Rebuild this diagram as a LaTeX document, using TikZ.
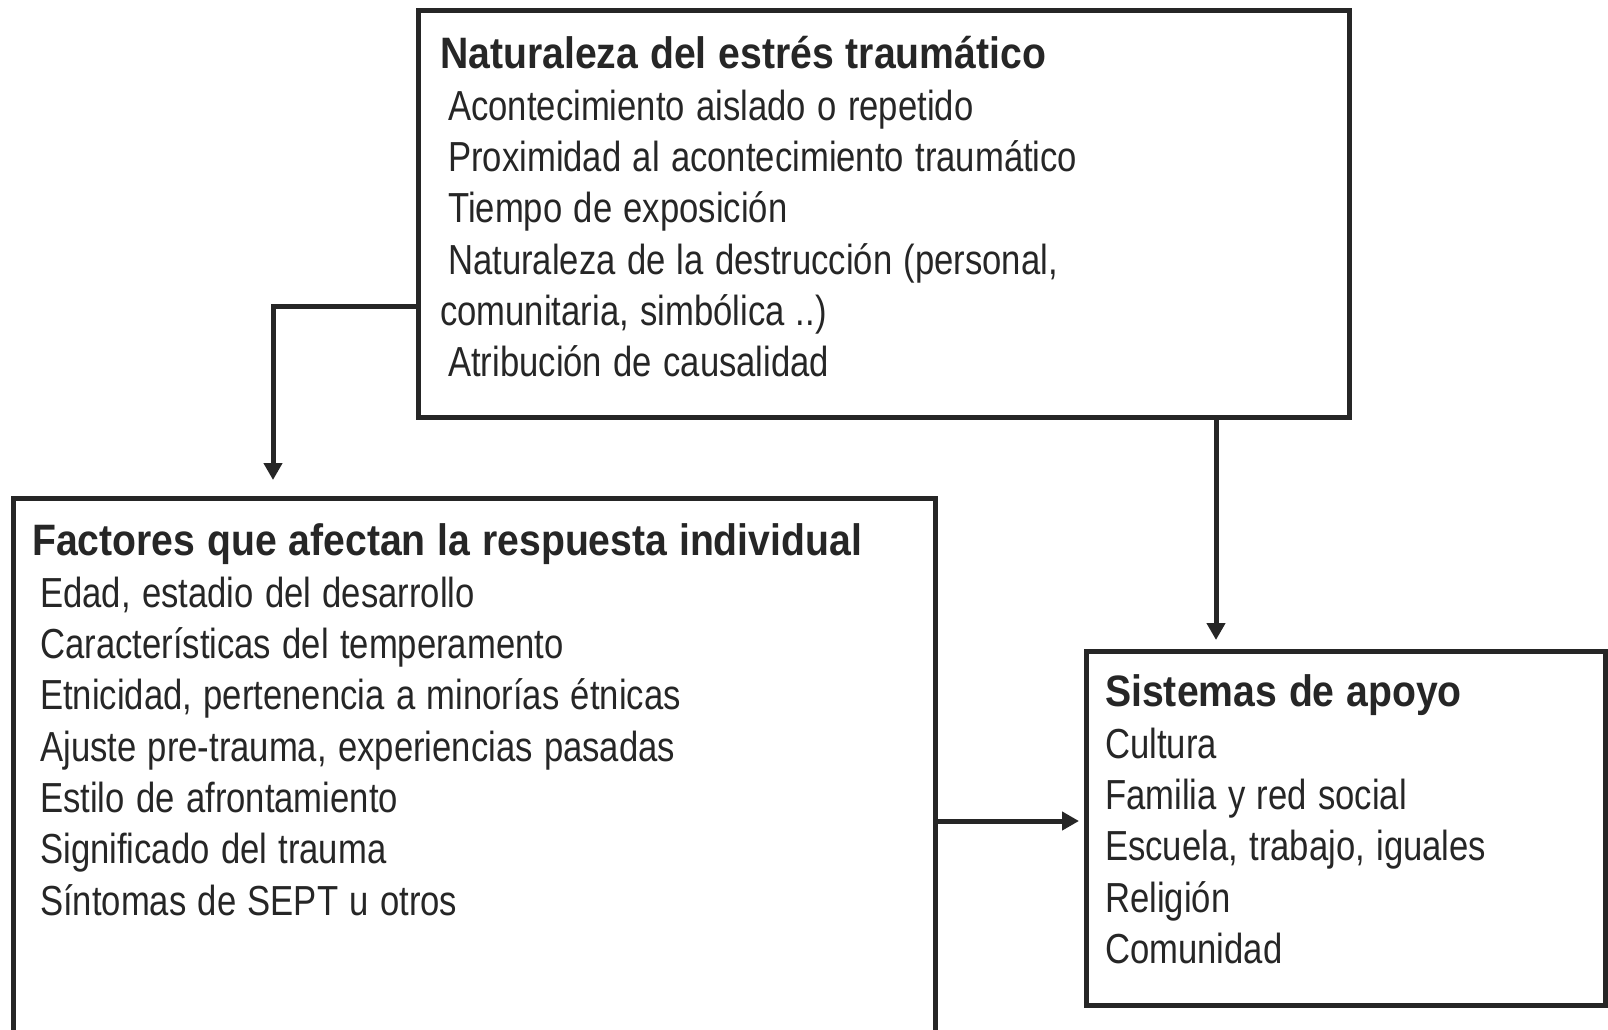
\documentclass[tikz,border=0pt]{standalone}
\usepackage{fontspec}
\setmainfont{Liberation Sans}[FakeStretch=0.825]
\newfontfamily\headfont{Liberation Sans}[FakeStretch=0.89]
\usetikzlibrary{positioning,arrows.meta}
\setlength{\parindent}{0pt}
\newcommand{\boxtitle}[1]{{\headfont\bfseries\fontsize{44}{51.3}\selectfont\spaceskip=0.27em\rule{0pt}{40pt}#1}\\[0.7pt]}
\newcommand{\lsp}{\hspace*{8pt}}

\begin{document}
\begin{tikzpicture}[x=1pt, y=-1pt,
        frame/.style={draw=black!85, line width=5pt, outer sep=0pt, inner sep=0pt, anchor=north west},
        txt/.style={inner sep=0pt, align=left, text=black!85,
                    font=\fontsize{42}{51.3}\selectfont,
                    execute at begin node={\spaceskip=0.27em\relax}},
        arr/.style={draw=black!85, line width=5pt, -{Triangle[width=18pt,length=17pt]}}]
    \useasboundingbox (0,0) rectangle (1608,1030);
    \node[frame, minimum width=931pt, minimum height=406pt] (nat) at (418,11) {};
    \node[frame, minimum width=922pt, minimum height=560pt] (fac) at (13.5,498) {};
    \node[frame, minimum width=519pt, minimum height=354pt] (sis) at (1086,651) {};

    \node[txt, text width=890pt, below right=17pt and 22pt of nat.north west] (nattxt) {\boxtitle{Naturaleza del estrés traumático}
        \lsp Acontecimiento aislado o repetido\\
        \lsp Proximidad al acontecimiento traumático\\
        \lsp Tiempo de exposición\\
        \lsp Naturaleza de la destrucción (personal,\\
        comunitaria, simbólica ..)\\
        \lsp Atribución de causalidad};
    \node[txt, text width=890pt, below right=17pt and 18.5pt of fac.north west] (factxt) {\boxtitle{Factores que afectan la respuesta individual}
        \lsp Edad, estadio del desarrollo\\
        \lsp Características del temperamento\\
        \lsp Etnicidad, pertenencia a minorías étnicas\\
        \lsp Ajuste pre-trauma, experiencias pasadas\\
        \lsp Estilo de afrontamiento\\
        \lsp Significado del trauma\\
        \lsp Síntomas de SEPT u otros};
    \node[txt, text width=480pt, below right=15pt and 19pt of sis.north west] (sistxt) {\boxtitle{Sistemas de apoyo}
        Cultura\\
        Familia y red social\\
        Escuela, trabajo, iguales\\
        Religión\\
        Comunidad};

    \coordinate (tipfac) at ([xshift=259.5pt, yshift=18pt]fac.north west);
    \coordinate (tipsis) at ([xshift=-129.5pt, yshift=11pt]sis.north);
    \coordinate (tipside) at ([xshift=-7pt, yshift=7pt]sis.west);
    \draw[arr] ([yshift=-92pt]nat.west) -| (tipfac);
    \draw[arr] (nat.south -| tipsis) -- (tipsis);
    \draw[arr] (fac.east |- tipside) -- (tipside);
\end{tikzpicture}
\end{document}
